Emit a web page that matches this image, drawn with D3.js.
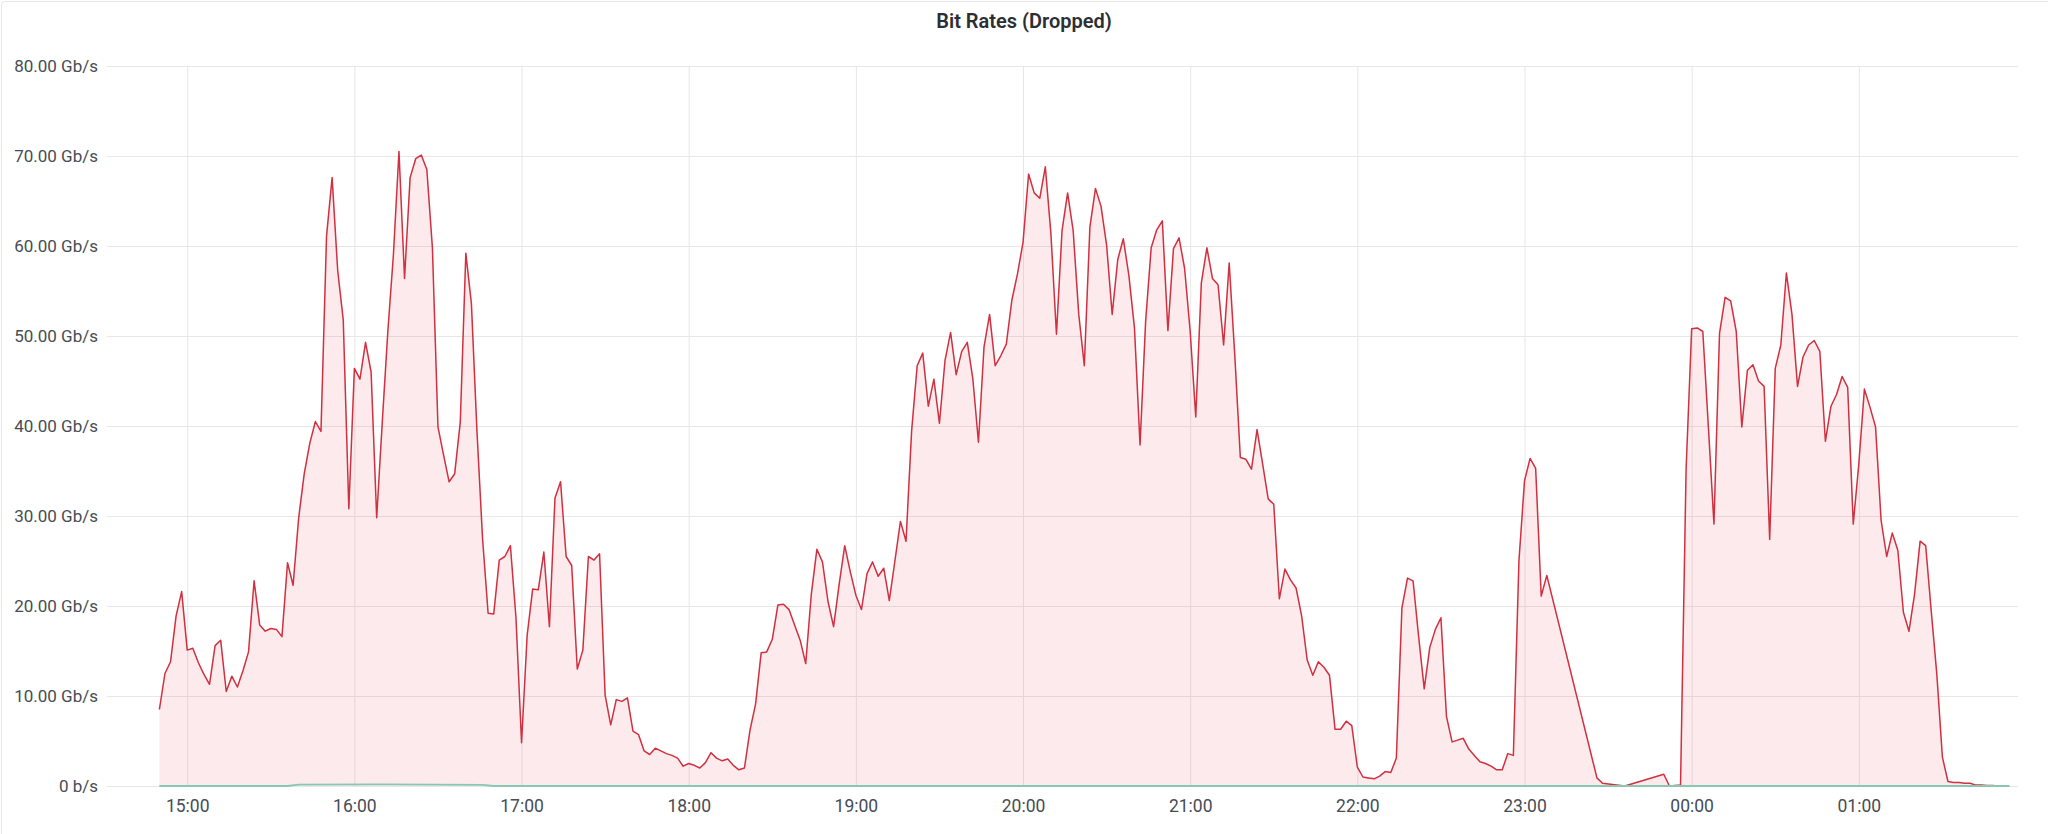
<!DOCTYPE html>
<html>
<head>
<meta charset="utf-8">
<script src="https://cdn.jsdelivr.net/npm/d3@7"></script>
<style>
  html, body { margin: 0; padding: 0; background: #ffffff; }
  svg { display: block; font-family: Roboto, "Noto Sans", sans-serif; }
</style>
</head>
<body>
<svg id="chart" width="2048" height="834"></svg>
<script>
// ---------------- DATA ----------------
const title = "Bit Rates (Dropped)";

const droppedTimes = [
  "14:50","14:52","14:54","14:56","14:58","15:00","15:02","15:04","15:06","15:08",
  "15:10","15:12","15:14","15:16","15:18","15:20","15:22","15:24","15:26","15:28",
  "15:30","15:32","15:34","15:36","15:38","15:40","15:42","15:44","15:46","15:48",
  "15:50","15:52","15:54","15:56","15:58","16:00","16:02","16:04","16:06","16:08",
  "16:10","16:12","16:14","16:16","16:18","16:20","16:22","16:24","16:26","16:28",
  "16:30","16:32","16:34","16:36","16:38","16:40","16:42","16:44","16:46","16:48",
  "16:50","16:52","16:54","16:56","16:58","17:00","17:02","17:04","17:06","17:08",
  "17:10","17:12","17:14","17:16","17:18","17:20","17:22","17:24","17:26","17:28",
  "17:30","17:32","17:34","17:36","17:38","17:40","17:42","17:44","17:46","17:48",
  "17:50","17:52","17:54","17:56","17:58","18:00","18:02","18:04","18:06","18:08",
  "18:10","18:12","18:14","18:16","18:18","18:20","18:22","18:24","18:26","18:28",
  "18:30","18:32","18:34","18:36","18:38","18:40","18:42","18:44","18:46","18:48",
  "18:50","18:52","18:54","18:56","18:58","19:00","19:02","19:04","19:06","19:08",
  "19:10","19:12","19:14","19:16","19:18","19:20","19:22","19:24","19:26","19:28",
  "19:30","19:32","19:34","19:36","19:38","19:40","19:42","19:44","19:46","19:48",
  "19:50","19:52","19:54","19:56","19:58","20:00","20:02","20:04","20:06","20:08",
  "20:10","20:12","20:14","20:16","20:18","20:20","20:22","20:24","20:26","20:28",
  "20:30","20:32","20:34","20:36","20:38","20:40","20:42","20:44","20:46","20:48",
  "20:50","20:52","20:54","20:56","20:58","21:00","21:02","21:04","21:06","21:08",
  "21:10","21:12","21:14","21:16","21:18","21:20","21:22","21:24","21:26","21:28",
  "21:30","21:32","21:34","21:36","21:38","21:40","21:42","21:44","21:46","21:48",
  "21:50","21:52","21:54","21:56","21:58","22:00","22:02","22:04","22:06","22:08",
  "22:10","22:12","22:14","22:16","22:18","22:20","22:22","22:24","22:26","22:28",
  "22:30","22:32","22:34","22:36","22:38","22:40","22:42","22:44","22:46","22:48",
  "22:50","22:52","22:54","22:56","22:58","23:00","23:02","23:04","23:06","23:08",
  "23:26","23:28","23:36","23:50","23:52","23:56","23:58",
  "00:00","00:02","00:04","00:06","00:08","00:10","00:12","00:14","00:16","00:18",
  "00:20","00:22","00:24","00:26","00:28","00:30","00:32","00:34","00:36","00:38",
  "00:40","00:42","00:44","00:46","00:48","00:50","00:52","00:54","00:56","00:58",
  "01:00","01:02","01:04","01:06","01:08","01:10","01:12","01:14","01:16","01:18",
  "01:20","01:22","01:24","01:26","01:28","01:30","01:32","01:34","01:36","01:38",
  "01:40","01:42","01:44","01:46","01:48","01:50","01:52","01:54"
];

// Gb/s
const droppedValues = [
  8.5,12.5,13.8,18.9,21.6,15.1,15.3,13.7,12.4,11.3,
  15.6,16.2,10.5,12.2,11.0,12.8,14.9,22.8,17.9,17.2,
  17.5,17.4,16.6,24.8,22.3,29.8,34.7,38.1,40.5,39.4,
  61.1,67.6,57.3,51.8,30.8,46.4,45.2,49.3,46.0,29.8,
  40.4,50.5,59.0,70.5,56.4,67.6,69.7,70.1,68.5,59.8,
  39.9,36.8,33.8,34.7,40.4,59.2,53.6,39.4,27.5,19.2,
  19.1,25.1,25.5,26.7,18.7,4.8,16.7,21.9,21.8,26.0,
  17.7,32.0,33.8,25.5,24.5,13.0,15.1,25.5,25.1,25.8,
  10.1,6.8,9.6,9.4,9.8,6.1,5.7,3.9,3.5,4.2,
  3.9,3.6,3.4,3.1,2.2,2.5,2.3,2.0,2.6,3.7,
  3.1,2.8,3.0,2.3,1.8,2.0,6.2,9.1,14.8,14.9,
  16.3,20.1,20.2,19.6,17.9,16.2,13.6,21.3,26.3,24.9,
  20.5,17.7,22.4,26.7,23.8,21.2,19.6,23.6,24.9,23.3,
  24.2,20.6,25.0,29.4,27.2,39.4,46.7,48.1,42.2,45.2,
  40.3,47.3,50.4,45.7,48.3,49.3,45.2,38.2,48.8,52.4,
  46.7,47.8,49.1,54.0,56.9,60.4,68.0,65.9,65.3,68.8,
  61.4,50.2,61.7,65.9,61.7,52.4,46.7,62.1,66.4,64.4,
  60.1,52.4,58.5,60.8,56.7,50.9,37.9,51.6,59.8,61.8,
  62.8,50.6,59.7,60.9,57.5,50.5,41.0,55.9,59.8,56.4,
  55.7,49.0,58.1,47.9,36.5,36.3,35.2,39.6,35.8,31.9,
  31.3,20.8,24.1,22.9,22.0,18.9,14.0,12.3,13.8,13.2,
  12.3,6.3,6.3,7.2,6.7,2.1,1.0,0.9,0.8,1.1,
  1.6,1.5,3.1,19.8,23.1,22.8,16.6,10.8,15.4,17.4,
  18.7,7.7,4.9,5.1,5.3,4.1,3.4,2.7,2.5,2.2,
  1.8,1.8,3.6,3.4,25.0,33.9,36.4,35.3,21.1,23.4,
  0.9,0.3,0.0,1.3,0.0,0.1,35.2,
  50.8,50.9,50.5,39.9,29.1,50.3,54.3,53.9,50.5,39.9,
  46.2,46.8,45.0,44.4,27.4,46.4,49.0,57.0,52.4,44.4,
  47.7,49.0,49.5,48.3,38.3,42.2,43.5,45.5,44.3,29.1,
  35.8,44.1,42.1,39.9,29.5,25.5,28.1,26.2,19.3,17.2,
  21.3,27.2,26.7,19.4,12.4,3.2,0.5,0.4,0.4,0.3,
  0.3,0.1,0.1,0.05,0.05,0.0,0.0,0.0
];

// second series, almost zero all along
const otherTimes  = ["14:50","15:36","15:40","16:10","16:46","16:50","01:54"];
const otherValues = [0.0, 0.0, 0.15, 0.18, 0.12, 0.0, 0.0];

const hourTicks = ["15:00","16:00","17:00","18:00","19:00","20:00","21:00","22:00","23:00","00:00","01:00"];
const yTicks = [0, 10, 20, 30, 40, 50, 60, 70, 80];
const xDomain = ["14:31:12", "01:57:08"];

(function () {
// ---------------- HELPERS ----------------
function parseT(s) {
  const p = s.split(":").map(Number);
  const h = p[0], m = p[1], sec = p[2] || 0;
  return new Date(2024, 0, h < 12 ? 2 : 1, h, m, sec);
}
function fmtY(v) { return v === 0 ? "0 b/s" : v.toFixed(2) + " Gb/s"; }

const dropped = droppedTimes.map((t, i) => ({ t: parseT(t), v: droppedValues[i] }));
const other = otherTimes.map((t, i) => ({ t: parseT(t), v: otherValues[i] }));

// ---------------- LAYOUT ----------------
const svg = d3.select("#chart");
const pLeft = 107, pRight = 2018, pTop = 66, pBottom = 786;

const x = d3.scaleTime().domain(xDomain.map(parseT)).range([pLeft, pRight]);
const y = d3.scaleLinear().domain([0, 80]).range([pBottom, pTop]);

// panel border
svg.append("rect")
  .attr("x", 1.5).attr("y", 1.5).attr("width", 2100).attr("height", 900)
  .attr("rx", 3).attr("fill", "none").attr("stroke", "#e4e6e8").attr("stroke-width", 1);

// title
svg.append("text")
  .attr("x", 1024).attr("y", 21)
  .attr("text-anchor", "middle").attr("dominant-baseline", "central")
  .attr("font-size", 20).attr("font-weight", 600).attr("fill", "#2b2f33")
  .text(title);

// horizontal grid
const yGrid = d3.axisLeft(y).tickValues(yTicks).tickSize(-(pRight - pLeft)).tickFormat("");
svg.append("g").attr("transform", `translate(${pLeft},0)`).call(yGrid)
  .call(g => g.select(".domain").remove())
  .call(g => g.selectAll("line").attr("stroke", "#e7e7e8").attr("stroke-width", 1));

// vertical grid
const hourDates = hourTicks.map(parseT);
const xGrid = d3.axisBottom(x).tickValues(hourDates).tickSize(-(pBottom - pTop)).tickFormat("");
svg.append("g").attr("transform", `translate(0,${pBottom})`).call(xGrid)
  .call(g => g.select(".domain").remove())
  .call(g => g.selectAll("line").attr("stroke", "#e7e7e8").attr("stroke-width", 1));

// y axis labels
const yAxis = d3.axisLeft(y).tickValues(yTicks).tickSize(0).tickPadding(0).tickFormat(fmtY);
svg.append("g").attr("transform", `translate(${pLeft - 9},0)`).call(yAxis)
  .call(g => g.select(".domain").remove())
  .call(g => g.selectAll("text")
    .attr("font-size", 17).attr("fill", "#464c54")
    .attr("font-family", "Roboto, 'Noto Sans', sans-serif"));

// x axis labels
const xAxis = d3.axisBottom(x).tickValues(hourDates).tickSize(0).tickPadding(0)
  .tickFormat(d3.timeFormat("%H:%M"));
svg.append("g").attr("transform", `translate(0,${pBottom + 14})`).call(xAxis)
  .call(g => g.select(".domain").remove())
  .call(g => g.selectAll("text")
    .attr("font-size", 17.5).attr("fill", "#464c54")
    .attr("font-family", "Roboto, 'Noto Sans', sans-serif"));

// area + line for dropped bit rate
const area = d3.area().x(d => x(d.t)).y0(y(0)).y1(d => y(d.v));
const line = d3.line().x(d => x(d.t)).y(d => y(d.v));

svg.append("path").datum(dropped)
  .attr("d", area).attr("fill", "#e02f44").attr("fill-opacity", 0.1);
svg.append("path").datum(dropped)
  .attr("d", line).attr("fill", "none")
  .attr("stroke", "#d0303f").attr("stroke-width", 1.5).attr("stroke-linejoin", "round");

// near-zero series
svg.append("path").datum(other)
  .attr("d", line).attr("fill", "none")
  .attr("stroke", "#86c8b2").attr("stroke-width", 1.8);
})();
</script>
</body>
</html>
